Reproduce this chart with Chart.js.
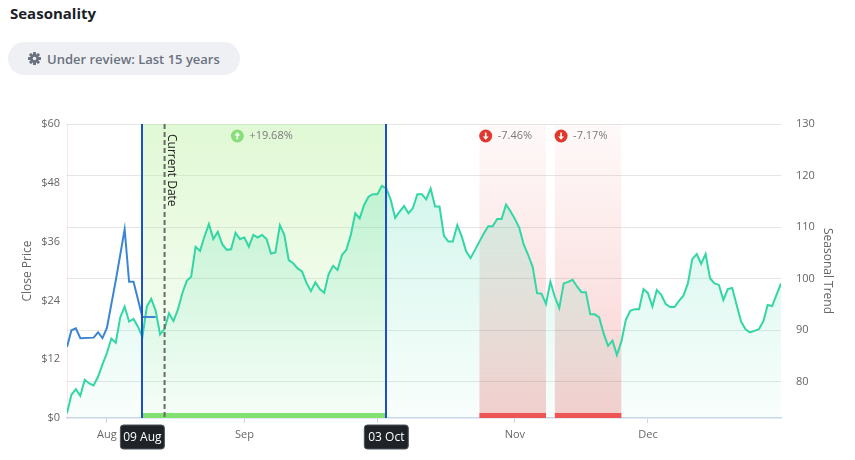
<!DOCTYPE html>
<html>
<head>
<meta charset="utf-8">
<script src="https://cdn.jsdelivr.net/npm/chart.js@4.4.1/dist/chart.umd.min.js"></script>
<style>
  body { margin: 0; background: #fff; font-family: "Open Sans", sans-serif; width: 855px; height: 460px; overflow: hidden; position: relative; }
  h1 { position: absolute; left: 10px; top: 3px; margin: 0; font-size: 15px; font-weight: 700; color: #1b1e28; }
  .pill { position: absolute; left: 8px; top: 42px; width: 232px; height: 33px; border-radius: 17px; background: #eff0f3;
          display: flex; align-items: center; padding-left: 20px; box-sizing: border-box; color: #6b7180; font-size: 13px; font-weight: 600; }
  .pill svg { margin-right: 6px; }
  #wrap { position: absolute; left: 0; top: 90px; width: 855px; height: 370px; }
</style>
</head>
<body>
<h1>Seasonality</h1>
<div class="pill">
  <svg width="13" height="13" viewBox="-7 -7 14 14">
    <g fill="#6b7180">
      <circle r="4.7"/>
      <rect x="-1.6" y="-7" width="3.2" height="14" rx="0.6"/>
      <rect x="-1.6" y="-7" width="3.2" height="14" rx="0.6" transform="rotate(45)"/>
      <rect x="-1.6" y="-7" width="3.2" height="14" rx="0.6" transform="rotate(90)"/>
      <rect x="-1.6" y="-7" width="3.2" height="14" rx="0.6" transform="rotate(135)"/>
    </g>
    <circle r="1.9" fill="#eff0f3"/>
  </svg>
  Under review: Last 15 years
</div>
<div id="wrap"><canvas id="seasonChart"></canvas></div>
<script>
// days counted from 23 Jul (day 0) to 31 Dec (day 161)
const monthTickDays = [9, 40, 70, 101, 131];
const monthLabels = ["Aug", "Sep", "Oct", "Nov", "Dec"];

// seasonal trend, one value per day
const trendValues = [
  73.9, 77.5, 78.6, 77.3, 80.4, 79.7, 79.3, 81.0, 83.4, 85.6,
  88.4, 87.6, 92.5, 94.6, 91.7, 92.2, 90.7, 88.7, 94.6, 96.1,
  93.8, 89.2, 90.3, 93.3, 91.8, 94.0, 97.2, 99.6, 100.4, 106.2,
  105.4, 108.2, 110.6, 107.7, 109.1, 106.7, 105.6, 105.7, 108.9, 107.7,
  108.0, 106.2, 108.5, 108.0, 108.5, 107.7, 104.9, 105.1, 110.4, 108.5,
  103.6, 103.0, 102.0, 101.4, 99.2, 97.6, 99.3, 98.0, 97.3, 100.9,
  102.5, 101.7, 104.6, 105.6, 108.5, 112.7, 111.7, 114.3, 115.9, 116.4,
  116.4, 118.0, 117.5, 115.3, 111.8, 113.0, 114.1, 112.7, 113.7, 116.4,
  116.4, 115.4, 117.5, 114.0, 114.0, 108.3, 107.2, 107.2, 110.4, 108.2,
  105.3, 104.0, 105.6, 107.2, 108.8, 110.2, 110.2, 111.6, 111.6, 114.4,
  113.1, 111.6, 109.8, 106.6, 104.6, 102.3, 97.2, 97.1, 95.1, 99.4,
  96.5, 94.3, 99.1, 99.4, 99.8, 98.5, 97.4, 97.4, 93.1, 93.1,
  92.5, 89.4, 87.0, 88.0, 85.2, 87.8, 92.0, 93.8, 94.1, 94.1,
  98.0, 97.2, 94.6, 97.8, 96.9, 95.1, 94.5, 94.5, 95.7, 96.7,
  99.1, 103.8, 104.8, 102.9, 104.8, 100.1, 99.1, 98.8, 95.9, 98.0,
  98.2, 94.9, 91.7, 90.2, 89.6, 89.9, 90.2, 91.7, 94.9, 94.7,
  96.9, 99.1
];

// close price (trading days only)
const priceDays = [0, 1, 2, 3, 6, 7, 8, 9, 11, 13, 14, 15, 17, 20];
const priceValues = [14.5, 17.9, 18.3, 16.3, 16.4, 17.5, 16.3, 18.4, 28.1, 38.5, 27.8, 27.8, 20.6, 20.6];

const upPeriod = [17, 72];
const upChange = "+19.68%";
const downPeriods = [[93, 108], [110, 125]];
const downChanges = ["-7.46%", "-7.17%"];
const currentDay = 22;
const markerDays = [17, 72];
const markerLabels = ["09 Aug", "03 Oct"];

Chart.defaults.font.family = '"Open Sans", sans-serif';

function roundRect(ctx, x, y, w, h, r) {
  ctx.beginPath();
  ctx.moveTo(x + r, y);
  ctx.arcTo(x + w, y, x + w, y + h, r);
  ctx.arcTo(x + w, y + h, x, y + h, r);
  ctx.arcTo(x, y + h, x, y, r);
  ctx.arcTo(x, y, x + w, y, r);
  ctx.closePath();
}

function drawBadge(ctx, cx, cy, up, text) {
  ctx.fillStyle = up ? "#86df78" : "#e0382d";
  ctx.beginPath();
  ctx.arc(cx, cy, 6.5, 0, Math.PI * 2);
  ctx.fill();
  // little arrow
  ctx.fillStyle = "#fff";
  ctx.strokeStyle = "#fff";
  ctx.lineWidth = 1.6;
  const dir = up ? -1 : 1;
  ctx.beginPath();
  ctx.moveTo(cx, cy - dir * 3.5);
  ctx.lineTo(cx, cy + dir * 1);
  ctx.stroke();
  ctx.beginPath();
  ctx.moveTo(cx, cy + dir * 3.8);
  ctx.lineTo(cx - 3, cy + dir * 0.6);
  ctx.lineTo(cx + 3, cy + dir * 0.6);
  ctx.closePath();
  ctx.fill();
  ctx.fillStyle = "#7a7a7a";
  ctx.font = '11px "Open Sans", sans-serif';
  ctx.textAlign = "left";
  ctx.textBaseline = "middle";
  ctx.fillText(text, cx + 12, cy);
}

const seasonPlugin = {
  id: "season",
  beforeDatasetsDraw(chart) {
    const { ctx, chartArea: a, scales: { x } } = chart;
    ctx.save();
    // green (up) period shading
    let g = ctx.createLinearGradient(0, a.top, 0, a.bottom);
    g.addColorStop(0, "rgba(175,238,145,0.38)");
    g.addColorStop(1, "rgba(175,238,145,0.04)");
    ctx.fillStyle = g;
    let x0 = x.getPixelForValue(upPeriod[0]);
    let x1 = x.getPixelForValue(upPeriod[1]);
    ctx.fillRect(x0, a.top, x1 - x0, a.bottom - a.top);
    // red (down) period shading
    g = ctx.createLinearGradient(0, a.top, 0, a.bottom);
    g.addColorStop(0, "rgba(240,110,110,0.04)");
    g.addColorStop(1, "rgba(230,80,80,0.28)");
    ctx.fillStyle = g;
    downPeriods.forEach(p => {
      x0 = x.getPixelForValue(p[0]);
      x1 = x.getPixelForValue(p[1]);
      ctx.fillRect(x0, a.top, x1 - x0, a.bottom - a.top);
    });
    ctx.restore();
  },
  afterDraw(chart) {
    const { ctx, chartArea: a, scales: { x } } = chart;
    ctx.save();

    // bottom bars
    ctx.fillStyle = "#80e070";
    let x0 = x.getPixelForValue(upPeriod[0]);
    let x1 = x.getPixelForValue(upPeriod[1]);
    ctx.fillRect(x0, a.bottom - 5, x1 - x0, 5);
    ctx.fillStyle = "#ee5555";
    downPeriods.forEach(p => {
      const d0 = x.getPixelForValue(p[0]);
      const d1 = x.getPixelForValue(p[1]);
      ctx.fillRect(d0, a.bottom - 5, d1 - d0, 5);
    });

    // current date dashed line + label
    const cx = x.getPixelForValue(currentDay);
    ctx.strokeStyle = "#6a6a6a";
    ctx.lineWidth = 2;
    ctx.setLineDash([5, 3]);
    ctx.beginPath();
    ctx.moveTo(cx, a.top);
    ctx.lineTo(cx, a.bottom);
    ctx.stroke();
    ctx.setLineDash([]);
    ctx.save();
    ctx.translate(cx + 7, a.top + 10);
    ctx.rotate(Math.PI / 2);
    ctx.fillStyle = "#222";
    ctx.font = '12px "Open Sans", sans-serif';
    ctx.textAlign = "left";
    ctx.textBaseline = "middle";
    ctx.fillText("Current Date", 0, 0);
    ctx.restore();

    // period start / end lines
    ctx.strokeStyle = "#1b4fcf";
    ctx.lineWidth = 2;
    markerDays.forEach(d => {
      const px = Math.round(x.getPixelForValue(d));
      ctx.beginPath();
      ctx.moveTo(px, a.top);
      ctx.lineTo(px, a.bottom);
      ctx.stroke();
    });

    // change badges
    const badgeY = a.top + 12;
    drawBadge(ctx, x.getPixelForValue((upPeriod[0] + upPeriod[1]) / 2) - 27, badgeY, true, upChange);
    downPeriods.forEach((p, i) => {
      drawBadge(ctx, x.getPixelForValue((p[0] + p[1]) / 2) - 27, badgeY, false, downChanges[i]);
    });

    // date labels under the axis
    ctx.font = '12px "Open Sans", sans-serif';
    ctx.textAlign = "center";
    ctx.textBaseline = "middle";
    markerDays.forEach((d, i) => {
      const px = x.getPixelForValue(d);
      const w = 44, h = 24, top = a.bottom + 7;
      roundRect(ctx, px - w / 2, top, w, h, 3);
      ctx.fillStyle = "#1f2328";
      ctx.fill();
      ctx.strokeStyle = "#50555d";
      ctx.lineWidth = 1;
      ctx.stroke();
      ctx.fillStyle = "#fff";
      ctx.fillText(markerLabels[i], px, top + h / 2 + 0.5);
    });
    ctx.restore();
  }
};

new Chart(document.getElementById("seasonChart"), {
  type: "line",
  data: {
    datasets: [
      {
        label: "Close Price",
        data: priceDays.map((d, i) => ({ x: d, y: priceValues[i] })),
        yAxisID: "yPrice",
        borderColor: "#3b86d4",
        borderWidth: 2,
        pointRadius: 0,
        fill: false,
        tension: 0
      },
      {
        label: "Seasonal Trend",
        data: trendValues.map((v, i) => ({ x: i, y: v })),
        yAxisID: "yTrend",
        borderColor: "#33d6a5",
        borderWidth: 2,
        pointRadius: 0,
        tension: 0,
        fill: "start",
        backgroundColor: context => {
          const area = context.chart.chartArea;
          if (!area) return "rgba(51,214,165,0.15)";
          const g = context.chart.ctx.createLinearGradient(0, area.top, 0, area.bottom);
          g.addColorStop(0, "rgba(51,214,165,0.26)");
          g.addColorStop(1, "rgba(51,214,165,0.03)");
          return g;
        }
      }
    ]
  },
  options: {
    responsive: true,
    maintainAspectRatio: false,
    animation: false,
    layout: { padding: { top: 34, left: 0, right: 0, bottom: 0 } },
    plugins: {
      legend: { display: false },
      tooltip: { enabled: false }
    },
    scales: {
      x: {
        type: "linear",
        min: 0,
        max: 161,
        afterBuildTicks: scale => { scale.ticks = monthTickDays.map(v => ({ value: v })); },
        afterFit: scale => { scale.height = 42; },
        ticks: {
          autoSkip: false,
          maxRotation: 0,
          padding: 5,
          color: "#666",
          font: { size: 11 },
          callback: value => monthLabels[monthTickDays.indexOf(value)]
        },
        grid: { drawOnChartArea: false, tickLength: 5, color: "#ccd6eb" },
        border: { color: "#ccd6eb", width: 1.5 }
      },
      yPrice: {
        position: "left",
        min: 0,
        max: 60,
        afterFit: scale => { scale.width = 67; },
        ticks: { stepSize: 12, padding: 7, color: "#666", font: { size: 11 }, callback: v => "$" + v },
        grid: { display: false, drawTicks: false },
        border: { display: true, color: "rgba(240,120,120,0.18)" },
        title: { display: true, text: "Close Price", color: "#666", font: { size: 12 }, padding: { top: 20, bottom: 0 } }
      },
      yTrend: {
        position: "right",
        min: 73,
        max: 130,
        afterBuildTicks: scale => { scale.ticks = scale.ticks.filter(t => t.value % 10 === 0); },
        afterFit: scale => { scale.width = 74; },
        ticks: { stepSize: 10, padding: 15, color: "#666", font: { size: 11 } },
        grid: { color: "#e6e6e6", drawTicks: false },
        border: { display: false },
        title: { display: true, text: "Seasonal Trend", color: "#666", font: { size: 12 }, padding: { top: 20, bottom: 0 } }
      }
    }
  },
  plugins: [seasonPlugin]
});
</script>
</body>
</html>
